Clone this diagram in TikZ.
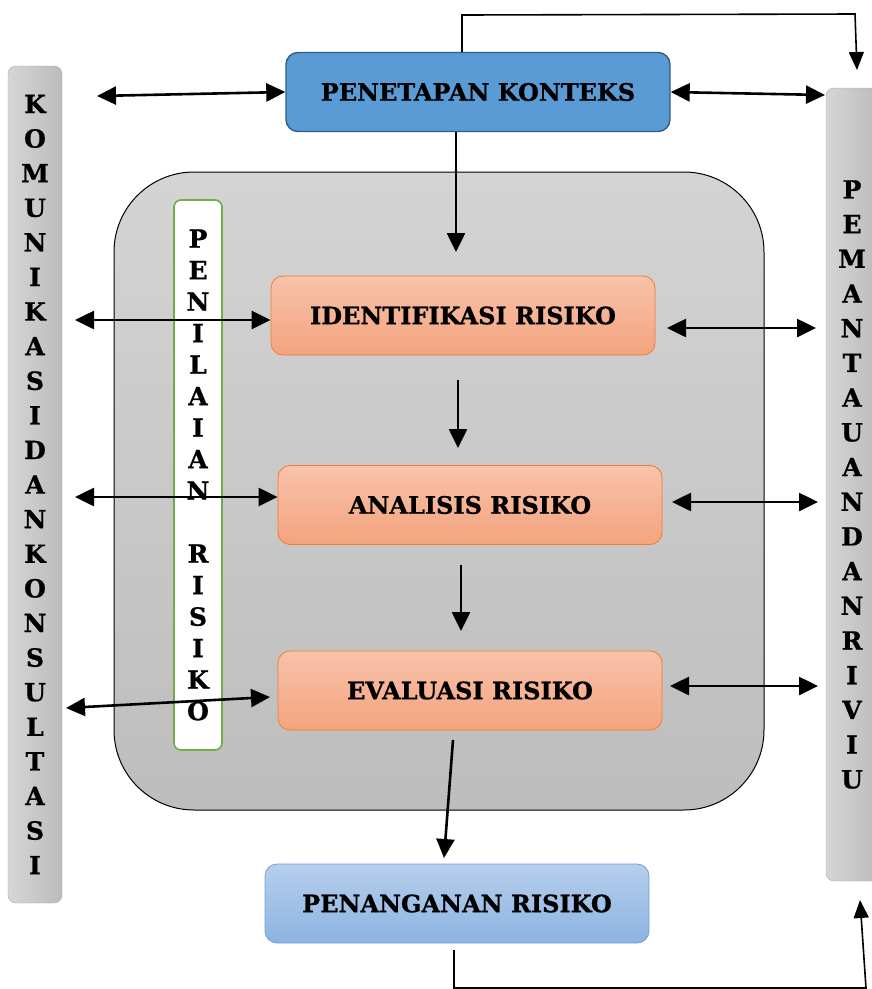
\documentclass[tikz,border=0pt]{standalone}
\usepackage{fontspec}
\setmainfont{DejaVu Serif}[BoldFeatures={FakeBold=0.8}]
\usetikzlibrary{arrows.meta}
\definecolor{ctxfill}{HTML}{5B9BD5}
\definecolor{ctxline}{HTML}{2F5D8A}
\definecolor{risktop}{HTML}{F8C2AA}
\definecolor{riskbot}{HTML}{F4A47E}
\definecolor{riskline}{HTML}{ED7D31}
\definecolor{treattop}{HTML}{B6CFEB}
\definecolor{treatbot}{HTML}{8DB3E2}
\definecolor{treatline}{HTML}{6FA1DA}
\definecolor{barleft}{HTML}{D6D6D6}
\definecolor{barright}{HTML}{BBBBBB}
\definecolor{barline}{HTML}{A8A8A8}
\definecolor{areatop}{HTML}{D4D4D4}
\definecolor{areabot}{HTML}{BDBDBD}
\definecolor{assessline}{HTML}{70AD47}
\tikzset{
  stepbox/.style={rounded corners=12pt, line width=0.8pt, minimum width=384pt,
    minimum height=79pt, font=\bfseries\fontsize{24}{28}\selectfont},
  riskbox/.style={stepbox, draw=riskline, top color=risktop, bottom color=riskbot},
  sidebar/.style={draw=barline, rounded corners=8pt, left color=barleft,
    right color=barright, align=center, inner sep=0pt},
  letters/.style={font=\bfseries\fontsize{25}{#1}\selectfont},
  biarrow/.style={{Triangle[length=19pt,width=18pt]}-{Triangle[length=19pt,width=18pt]}, line width=2.6pt},
  onearrow/.style={-{Triangle[length=19pt,width=18pt]}, line width=2.6pt},
  loopline/.style={-{Triangle[length=18pt,width=15pt]}, line width=1.6pt}
}
\begin{document}
\begin{tikzpicture}[x=1pt,y=-1pt]
  \useasboundingbox (0,0) rectangle (872,989);
  % assessment area
  \node[draw, line width=1pt, rounded corners=80pt, top color=areatop, bottom color=areabot,
    minimum width=650pt, minimum height=638pt] (area) at (439,491) {};
  % side bars
  \node[sidebar, letters=34.6, minimum width=54pt, minimum height=837pt] (komunikasi) at (35,484.5)
    {K\\O\\M\\U\\N\\I\\K\\A\\S\\I\\D\\A\\N\\K\\O\\N\\S\\U\\L\\T\\A\\S\\I};
  \node[sidebar, letters=34.7, minimum width=52pt, minimum height=793pt] (pemantauan) at (852,484.5)
    {P\\E\\M\\A\\N\\T\\A\\U\\A\\N\\D\\A\\N\\R\\I\\V\\I\\U};
  \node[draw=assessline, line width=1.6pt, fill=white, rounded corners=7pt, align=center,
    inner sep=0pt, letters=31.5, minimum width=48pt, minimum height=550pt] (penilaian) at (198,475)
    {P\\E\\N\\I\\L\\A\\I\\A\\N\\\mbox{}\\R\\I\\S\\I\\K\\O};
  % process boxes
  \node[stepbox, draw=ctxline, line width=1.4pt, fill=ctxfill] (konteks) at (478,92) {PENETAPAN KONTEKS};
  \node[riskbox] (identifikasi) at (463,315.5) {IDENTIFIKASI RISIKO};
  \node[riskbox] (analisis) at (470,505) {ANALISIS RISIKO};
  \node[riskbox] (evaluasi) at (470,690.5) {EVALUASI RISIKO};
  \node[stepbox, draw=treatline, top color=treattop, bottom color=treatbot] (penanganan) at (457,903.5) {PENANGANAN RISIKO};
  % free ends
  \coordinate (kk) at (97,96);
  \coordinate (kp) at (825,95);
  \coordinate (ki) at (75,320);
  \coordinate (pi1) at (667,328);
  \coordinate (pi2) at (816,328);
  \coordinate (ka) at (75,497);
  \coordinate (pa1) at (672,502);
  \coordinate (pa2) at (818,502);
  \coordinate (ke1) at (66,708);
  \coordinate (ke2) at (270,697);
  \coordinate (pe1) at (670,686);
  \coordinate (pe2) at (818,686);
  \coordinate (d1) at (456,252);
  \coordinate (d2a) at (458,380);
  \coordinate (d2b) at (458,448);
  \coordinate (d3a) at (461,565);
  \coordinate (d3b) at (461,631);
  \coordinate (d4a) at (453,740);
  \coordinate (d4b) at (444,858);
  \coordinate (t1) at (462,15);
  \coordinate (t2) at (855,14);
  \coordinate (t3) at (857,70);
  \coordinate (b0) at (454,950);
  \coordinate (b1) at (454,988);
  \coordinate (b2) at (866,988);
  \coordinate (b3) at (860,900);
  % connectors
  \draw[biarrow] (kk) -- (konteks.west);
  \draw[biarrow] (konteks.east) -- (kp);
  \draw[onearrow] ([xshift=-22pt]konteks.south) -- (d1);
  \draw[loopline] ([xshift=-16pt]konteks.north) -- (t1) -- (t2) -- (t3);
  \draw[biarrow] (ki) -- (ki -| identifikasi.west);
  \draw[biarrow] (pi1) -- (pi2);
  \draw[onearrow] (d2a) -- (d2b);
  \draw[biarrow] (ka) -- (ka -| analisis.west);
  \draw[biarrow] (pa1) -- (pa2);
  \draw[onearrow] (d3a) -- (d3b);
  \draw[biarrow] (ke1) -- (ke2);
  \draw[biarrow] (pe1) -- (pe2);
  \draw[onearrow] (d4a) -- (d4b);
  \draw[loopline] (b0) -- (b1) -- (b2) -- (b3);
\end{tikzpicture}
\end{document}
